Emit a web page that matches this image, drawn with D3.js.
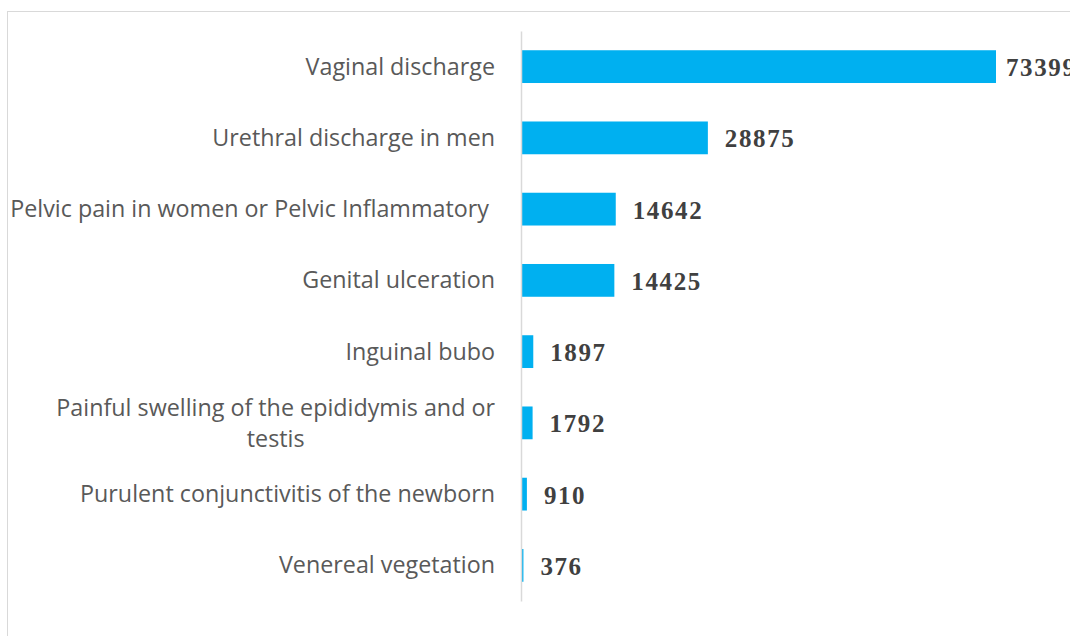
<!doctype html>
<html>
<head>
  <meta charset="utf-8">
  <script src="https://d3js.org/d3.v7.min.js"></script>
  <style>
    body { margin: 0; background: #fff; overflow: hidden; }
    .cat text { font-family: "Open Sans", sans-serif; fill: #595959; white-space: pre; }
    .val { font-family: "Liberation Serif", serif; font-weight: bold; fill: #404040; }
  </style>
</head>
<body>
<div id="chart"></div>
<script>
  var categories = [
    "Vaginal discharge",
    "Urethral discharge in men",
    "Pelvic pain in women or Pelvic Inflammatory ",
    "Genital ulceration",
    "Inguinal bubo",
    "Painful swelling of the epididymis and or testis",
    "Purulent conjunctivitis of the newborn",
    "Venereal vegetation"
  ];
  var cases = [73399, 28875, 14642, 14425, 1897, 1792, 910, 376];

  var W = 1070, H = 636;
  var svg = d3.select("#chart").append("svg")
      .attr("width", W)
      .attr("height", H);

  // chart area frame (partly off-page like the source)
  svg.append("rect")
      .attr("x", 7.5).attr("y", 11.5)
      .attr("width", 1200).attr("height", 800)
      .attr("fill", "none").attr("stroke", "#d9d9d9");

  var data = categories.map(function(c, i) { return {name: c, value: cases[i]}; });

  var y = d3.scaleBand()
      .domain(categories)
      .range([31, 601])
      .paddingInner(0.54)
      .paddingOuter(0.27);

  var x = d3.scaleLinear()
      .domain([0, 80000])
      .range([521, 521 + 475 * 80000 / 73399]);

  svg.selectAll(".bar")
      .data(data)
      .enter().append("rect")
      .attr("class", "bar")
      .attr("x", x(0))
      .attr("y", function(d) { return y(d.name); })
      .attr("width", function(d) { return x(d.value) - x(0); })
      .attr("height", y.bandwidth())
      .attr("fill", "#00b0f0");

  var axis = svg.append("g")
      .attr("class", "cat")
      .attr("transform", "translate(" + x(0) + ",0)")
      .call(d3.axisLeft(y).tickSize(0).tickSizeOuter(0).tickPadding(26));

  axis.select(".domain").attr("stroke", "#d9d9d9").attr("stroke-width", 1.5);
  axis.selectAll("text").attr("font-size", 23.3).attr("dy", null);

  // wrap the long label: lines centred on each other, block right-aligned
  axis.selectAll(".tick text").each(function(d) {
    var t = d3.select(this);
    var words = d.split(" ");
    if (d === categories[5]) {
      var l1 = words.slice(0, words.length - 1).join(" ");
      var l2 = words[words.length - 1];
      t.text(null);
      var a = t.append("tspan").text(l1);
      var w1 = a.node().getComputedTextLength();
      a.attr("x", -26).attr("y", -7).attr("text-anchor", "end");
      t.append("tspan").text(l2)
        .attr("x", -26 - w1 / 2).attr("y", 24).attr("text-anchor", "middle");
    } else {
      t.attr("y", 8);
    }
  });

  // value labels; the longest one is pushed in so it hugs the plot edge
  svg.selectAll(".val")
      .data(data)
      .enter().append("text")
      .attr("class", "val")
      .attr("x", function(d) { return Math.min(x(d.value) + 17, 1006); })
      .attr("y", function(d) { return y(d.name) + y.bandwidth() / 2 + 9.5; })
      .attr("font-size", 25)
      .attr("letter-spacing", 1.6)
      .text(function(d) { return d.value; });
</script>
</body>
</html>
